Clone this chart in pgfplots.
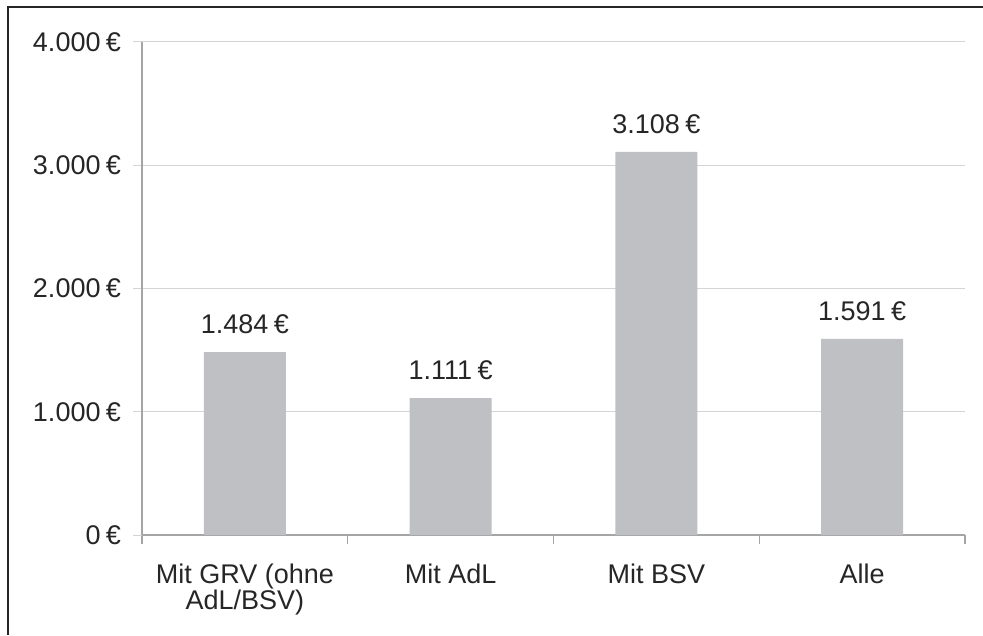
\documentclass[border=0pt]{standalone}
\usepackage{pgfplots}
\pgfplotsset{compat=1.18}
\usepackage{fontspec}
\setmainfont{Liberation Sans}
\definecolor{bargray}{RGB}{191,192,196}
\definecolor{gridgray}{RGB}{212,212,212}
\definecolor{axisgray}{RGB}{165,165,165}
\definecolor{txt}{RGB}{38,38,38}
\begin{document}
\begin{tikzpicture}[x=1pt,y=1pt]
\useasboundingbox (0,0) rectangle (983,635);
\begin{axis}[
  at={(142pt,100pt)}, anchor=south west,
  scale only axis, width=823pt, height=493pt,
  xmin=-0.5, xmax=3.5, ymin=0, ymax=4000,
  axis lines*=left,
  axis line style={color=axisgray, line width=1.2pt},
  tick align=outside,
  major tick length=8.5pt,
  xtick={-0.5,0.5,1.5,2.5,3.5},
  xticklabels={},
  xtick style={color=axisgray, line width=1.2pt},
  extra x ticks={0,1,2,3},
  extra x tick labels={Mit GRV (ohne\\AdL/BSV),Mit AdL,Mit BSV,Alle},
  extra x tick style={major tick length=0pt, tick style={draw=none}},
  ytick={0,1000,2000,3000,4000},
  yticklabels={0\kern0.2em€,1.000\kern0.2em€,2.000\kern0.2em€,3.000\kern0.2em€,4.000\kern0.2em€},
  ytick style={color=gridgray, line width=1pt},
  ymajorgrids,
  grid style={color=gridgray, line width=1pt},
  every tick label/.append style={font=\fontsize{27}{25}\selectfont, text=txt},
  xticklabel style={align=center, yshift=-25pt},
  yticklabel style={xshift=-9pt},
  ybar, bar width=82pt,
  nodes near coords={\pgfmathprintnumber[fixed,precision=0,1000 sep={.},assume math mode=true]{\pgfplotspointmeta}\kern0.2em€},
  every node near coord/.append style={font=\fontsize{27}{25}\selectfont, text=txt, yshift=15pt},
  clip=false,
]
\addplot[fill=bargray, draw=none] coordinates {(0,1484) (1,1111) (2,3108) (3,1591)};
\end{axis}
\draw[line width=2pt, color=black!85] (8,0) -- (8,628) -- (983,628);
\end{tikzpicture}
\end{document}
